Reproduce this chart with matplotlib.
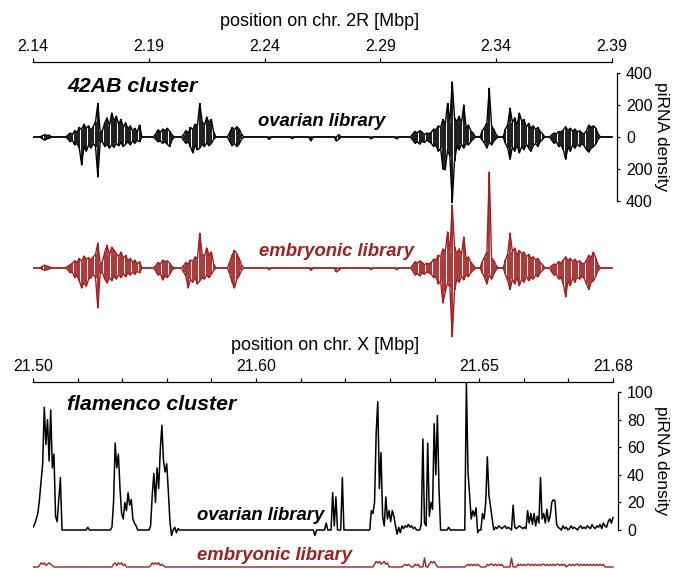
import numpy as np
import matplotlib
matplotlib.use("Agg")
import matplotlib.pyplot as plt

plt.rcParams['font.family'] = ['Liberation Sans', 'DejaVu Sans']

# ---------------- data: 42AB cluster (1 kb bins, chr 2R, kb) ----------------
top_grid_start = 2140
top_grid_end = 2390
top_bin = 1.0

ovary_42ab_plus = {
    2143: [0, 8, 15, 10, 12, 0],
    2155: [10, 25, 15, 40, 30, 60, 45, 80, 55, 70, 40, 65, 95, 210, 30],
    2170: [40, 90, 120, 70, 150, 100, 130, 80, 110, 60, 90, 50, 70, 40, 55, 30, 75],
    2193: [20, 45, 30, 50, 40, 55, 35, 15],
    2205: [15, 40, 25, 60, 45, 80, 70, 210, 100, 70, 125, 90, 110, 30],
    2225: [30, 60, 45, 65, 50, 20],
    2272: [15],
    2304: [20, 35, 25, 40, 30, 15, 25, 20, 30, 50, 45, 70, 60, 110, 80, 210, 90, 345,
           120, 95, 130, 85, 200, 60, 75, 40, 25],
    2334: [40, 60, 90, 305, 70, 45, 15],
    2344: [50, 80, 180, 90, 120, 70, 150, 100, 110, 60, 85, 55, 70, 45, 60, 35, 20],
    2364: [15, 25, 20, 35, 30, 45, 65, 40, 55, 35, 50, 30, 40, 25, 20, 40, 75, 60, 70, 55, 20],
}
ovary_42ab_minus = {
    2143: [0, -10, -20, -12, -8, 0],
    2155: [-10, -30, -20, -50, -40, -70, -175, -60, -90, -50, -70, -40, -60, -250, -30],
    2170: [-30, -60, -45, -70, -50, -65, -40, -55, -35, -60, -45, -30, -50, -25, -40, -20, -30],
    2193: [-15, -30, -25, -40, -30, -45, -60, -20],
    2205: [-20, -40, -30, -60, -100, -50, -80, -70, -45, -60, -35, -55, -40, -15],
    2225: [-30, -55, -40, -60, -45, -15],
    2242: [-15], 2252: [-10], 2260: [-25], 2271: [-25, -15], 2286: [-12], 2297: [-12],
    2304: [-20, -40, -30, -45, -25, -35, -20, -30, -40, -60, -50, -90, -70, -200, -205, -80,
           -120, -410, -150, -60, -80, -45, -70, -40, -50, -30, -15],
    2334: [-20, -40, -70, -30, -50, -25, -10],
    2344: [-40, -70, -140, -60, -90, -50, -100, -60, -80, -45, -70, -90, -55, -40, -60, -30, -15],
    2364: [-20, -40, -30, -60, -50, -80, -140, -60, -90, -50, -70, -45, -60, -40, -55, -80, -95,
           -70, -60, -45, -15],
}
embryo_42ab_plus = {
    2143: [0, 10, 18, 12, 8, 0],
    2155: [10, 20, 30, 45, 35, 60, 40, 75, 55, 65, 50, 70, 85, 156, 25],
    2170: [40, 100, 143, 80, 130, 110, 90, 70, 100, 60, 80, 45, 60, 35, 50, 25, 40],
    2193: [15, 35, 25, 50, 40, 45, 30, 10],
    2205: [15, 35, 25, 50, 40, 70, 60, 218, 90, 70, 125, 80, 100, 25],
    2225: [40, 80, 110, 90, 60, 20],
    2304: [20, 40, 30, 45, 35, 20, 30, 25, 35, 55, 50, 80, 70, 120, 100, 225, 95, 394,
           130, 90, 120, 80, 194, 60, 70, 35, 20],
    2334: [40, 70, 100, 600, 60, 45, 15],
    2344: [50, 90, 218, 100, 125, 80, 110, 90, 100, 70, 85, 60, 70, 50, 60, 35, 20],
    2364: [15, 25, 20, 40, 30, 50, 70, 45, 60, 40, 55, 35, 45, 30, 25, 50, 80, 65, 100, 60, 20],
}
embryo_42ab_minus = {
    2143: [0, -8, -15, -10, -6, 0],
    2155: [-10, -30, -25, -60, -50, -80, -125, -90, -115, -70, -60, -40, -60, -250, -30],
    2170: [-30, -70, -94, -60, -80, -50, -70, -40, -60, -35, -55, -30, -45, -25, -40, -20, -30],
    2193: [-20, -45, -35, -75, -50, -60, -40, -15],
    2205: [-25, -50, -125, -70, -90, -60, -100, -80, -60, -70, -45, -60, -40, -15],
    2225: [-40, -90, -125, -70, -50, -15],
    2242: [-10], 2260: [-15], 2271: [-25, -15], 2286: [-10], 2297: [-10],
    2304: [-20, -45, -35, -50, -30, -40, -25, -30, -40, -60, -55, -100, -80, -220, -150, -90,
           -120, -430, -140, -70, -90, -50, -75, -40, -55, -30, -15],
    2334: [-30, -60, -100, -40, -70, -35, -10],
    2344: [-40, -80, -135, -70, -100, -60, -110, -70, -90, -50, -80, -60, -70, -45, -55, -30, -15],
    2364: [-25, -45, -40, -70, -60, -100, -180, -80, -110, -60, -90, -55, -70, -50, -65, -100,
           -135, -90, -80, -50, -15],
}
top_ticks = [2.14, 2.19, 2.24, 2.29, 2.34, 2.39]
top_tick_labels = ['2.14', '2.19', '2.24', '2.29', '2.34', '2.39']
top_yticks = [-400, -200, 0, 200, 400]
top_ytick_labels = ['400', '200', '0', '200', '400']

# ---------------- data: flamenco cluster (0.5 kb bins, chr X, kb) ----------------
bot_grid_start = 21500.0
bot_grid_end = 21680.0
bot_bin = 0.5

ovary_flam = {
    21500.0: [2, 4, 8, 12, 22, 35, 48, 89, 62, 80, 50, 87, 45, 55, 10, 6, 22, 38, 0],
    21517.0: [2],
    21524.5: [2, 20, 63, 45, 55, 30, 12, 8, 20, 14, 27, 18, 22, 8, 5, 3],
    21536.5: [3, 25, 41, 20, 45, 30, 58, 76, 50, 42, 48, 28, 6, -4],
    21544.0: [2, -2, 1],
    21587.5: [-4],
    21591.0: [5],
    21593.0: [27, 3, 24],
    21596.0: [38],
    21605.0: [14, 12, 20, 70, 93, 30, 56, 10, 3, 24, 8, 14, 6, 14, 10, 3, -3, 2, -2, 3, 1, 3,
              2, 4, 2, 3, 1, 2],
    21620.5: [4, 66, 5, 3, 63, 10, 20, 15, 77, 40, 83, 30],
    21629.0: [2],
    21634.5: [107, 42, 25, 8, 14, 10, 16, -2],
    21639.5: [12, 8, 20, 53, 25, 17, 8],
    21643.5: [2, 1, 3, 2, 1, 2, 3, 1, 2, 1],
    21649.0: [18, 2],
    21650.0: [1, 2, 3, 2, 1, 2, 1, 14, 5, 12, 4, 12, 3, 10, 5, 38, 8, 12, 5, 15, 6, 10, 20, 22,
              21, 4],
    21663.0: [2, 1, 0, 3, 1, 2, 0, 1, 3, 1, 2, 1, 0, 2, 3, 1, 2, 1, 3, 2, 1, 4, 2, 1, 3, 2, 4,
              1, 5, 3, 2, 6, 8, 5, 9],
}
embryo_flam = {
    21502.0: [1, 3, 2, 3, 1, 2, 3, 2, 1],
    21525.0: [2, 3, 1, 3, 2, 3, 1, 2],
    21536.5: [1, 3, 2, 3, 2, 3, 1, 2, 1],
    21606.0: [2, 4, 3, 4, 2, 3, 4, 2, 3],
    21615.0: [1, 2, 1, 2, 1],
    21618.5: [2, 1, 2],
    21621.5: [6.5],
    21623.0: [2, 4, 3, 4, 2],
    21634.5: [1, 2, 1, 2, 1, 2, 1, 2, 1],
    21641.0: [2, 1, 2, 2, 1, 2, 1, 2, 1, 2],
    21648.5: [6.5],
    21650.5: [2, 1, 2, 1, 2, 1, 2, 2, 1, 2, 1, 2, 1, 2, 1, 2, 2, 1, 2, 1, 2, 1, 2, 1, 2, 2, 1,
              2, 1, 2],
    21666.0: [1, 2, 1, 2, 1, 2, 2, 1, 2, 1, 2, 1, 2, 1, 2, 1, 2, 1, 2, 1, 2, 1, 2],
}
bot_tick_labels = ['21.50', '', '', '', '', '21.60', '', '', '', '', '21.65', '', '', '21.68']
bot_yticks = [0, 20, 40, 60, 80, 100]
bot_ytick_labels = ['0', '20', '40', '60', '80', '100']

RED = '#a11f1f'


def build(start, end, step, segments):
    n = int(round((end - start) / step)) + 1
    pos = start + step * np.arange(n)
    y = np.zeros(n)
    for s, vals in segments.items():
        i0 = int(round((s - start) / step))
        y[i0:i0 + len(vals)] = vals
    return pos / 1000.0, y


W, H = 674, 569
fig = plt.figure(figsize=(W / 100, H / 100), dpi=100)


def add_ax(left, top, right, bottom):
    return fig.add_axes([left / W, 1 - bottom / H, (right - left) / W, (bottom - top) / H])


def px_text(x, y, s, **kw):
    fig.text(x / W, 1 - y / H, s, **kw)


def draw_strands(ax, plus, minus, color):
    x, yp = build(top_grid_start, top_grid_end, top_bin, plus)
    _, ym = build(top_grid_start, top_grid_end, top_bin, minus)
    ax.plot(x, yp, color=color, lw=1.0)
    ax.plot(x, ym, color=color, lw=1.0)
    nz = yp != 0
    ax.vlines(x[nz], 0, yp[nz], color=color, lw=1.25)
    nz = ym != 0
    ax.vlines(x[nz], 0, ym[nz], color=color, lw=1.25)


# ---------- top panel ----------
y_per_px_top = 6.25
ax1 = add_ax(33, 62, 617, 210)
ax1.patch.set_alpha(0)
ax1.set_xlim(2.14, 2.14 + (617 - 33) / 579 * 0.25)
ax1.set_ylim(-(210 - 137) * y_per_px_top, (137 - 62) * y_per_px_top)
draw_strands(ax1, ovary_42ab_plus, ovary_42ab_minus, 'black')
for sp in ['left', 'bottom']:
    ax1.spines[sp].set_visible(False)
ax1.spines['top'].set_bounds(2.14, 2.39)
ax1.spines['right'].set_bounds(-400, 400)
ax1.spines['top'].set_linewidth(0.9)
ax1.spines['right'].set_linewidth(0.9)
ax1.xaxis.tick_top()
ax1.set_xticks(top_ticks)
ax1.set_xticklabels(top_tick_labels)
ax1.yaxis.tick_right()
ax1.set_yticks(top_yticks)
ax1.set_yticklabels(top_ytick_labels)
ax1.tick_params(axis='x', direction='out', length=3, width=0.9, pad=3, labelsize=11.5)
ax1.tick_params(axis='y', direction='out', length=2.5, width=0.9, pad=4, labelsize=11.5)

ax2 = add_ax(33, 140, 617, 345)
ax2.patch.set_alpha(0)
ax2.set_xlim(ax1.get_xlim())
ax2.set_ylim(-(345 - 268) * y_per_px_top, (268 - 140) * y_per_px_top)
draw_strands(ax2, embryo_42ab_plus, embryo_42ab_minus, RED)
ax2.axis('off')

# ---------- bottom panel ----------
y_per_px_bot = 1 / 1.38
ax3 = add_ax(33, 382, 618, 548)
ax3.patch.set_alpha(0)
ax3.set_xlim(21.50, 21.50 + (618 - 33) / 580 * 0.18)
ax3.set_ylim(-(548 - 530) * y_per_px_bot, (530 - 382) * y_per_px_bot)
x, y = build(bot_grid_start, bot_grid_end, bot_bin, ovary_flam)
ax3.plot(x, y, color='black', lw=1.1)
for sp in ['left', 'bottom']:
    ax3.spines[sp].set_visible(False)
ax3.spines['top'].set_bounds(21.50, 21.68)
ax3.spines['right'].set_bounds(0, 100)
ax3.spines['top'].set_linewidth(0.9)
ax3.spines['right'].set_linewidth(0.9)
ax3.xaxis.tick_top()
ax3.set_xticks(np.linspace(21.50, 21.68, len(bot_tick_labels)))
ax3.set_xticklabels(bot_tick_labels)
ax3.yaxis.tick_right()
ax3.set_yticks(bot_yticks)
ax3.set_yticklabels(bot_ytick_labels)
ax3.tick_params(axis='x', direction='out', length=3, width=0.9, pad=3, labelsize=11.5)
ax3.tick_params(axis='y', direction='out', length=2.5, width=0.9, pad=4, labelsize=11.5)

ax4 = add_ax(33, 540, 618, 569)
ax4.patch.set_alpha(0)
ax4.set_xlim(ax3.get_xlim())
ax4.set_ylim(-(569 - 567) * y_per_px_bot, (567 - 540) * y_per_px_bot)
x, y = build(bot_grid_start, bot_grid_end, bot_bin, embryo_flam)
ax4.plot(x, y, color=RED, lw=1.0)
ax4.axis('off')

# ---------- texts ----------
px_text(320, 22, 'position on chr. 2R [Mbp]', ha='center', va='center', fontsize=13)
px_text(325, 346, 'position on chr. X [Mbp]', ha='center', va='center', fontsize=13)
px_text(661, 137, 'piRNA density', rotation=270, ha='center', va='center', fontsize=12.5)
px_text(661, 461, 'piRNA density', rotation=270, ha='center', va='center', fontsize=12.5)

lab = dict(fontweight='bold', fontstyle='italic', ha='left', va='center')
px_text(67, 86, '42AB cluster', fontsize=15.3, **lab)
px_text(67, 405, 'flamenco cluster', fontsize=15.3, **lab)
px_text(258, 121, 'ovarian library', fontsize=13.3, color='black', **lab)
px_text(259, 252, 'embryonic library', fontsize=13.3, color=RED, **lab)
px_text(197, 515, 'ovarian library', fontsize=13.3, color='black', **lab)
px_text(197, 555, 'embryonic library', fontsize=13.3, color=RED, **lab)

fig.savefig('out.png', dpi=100)
